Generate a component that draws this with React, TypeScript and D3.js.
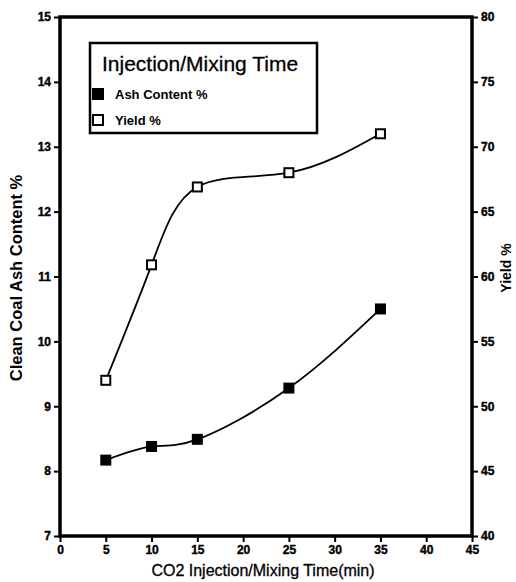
import React, { useEffect, useRef } from "react";
import * as d3 from "d3";

// injection / mixing time (min)
const times = [5, 10, 15, 25, 35];
// clean coal ash content %, left axis
const ashContent = [8.17, 8.38, 8.49, 9.28, 10.5];
// yield %, right axis
const yieldPct = [52.0, 60.9, 66.9, 68.0, 71.0];

const xTicks = [0, 5, 10, 15, 20, 25, 30, 35, 40, 45];
const ashTicks = [7, 8, 9, 10, 11, 12, 13, 14, 15];
const yieldTicks = [40, 45, 50, 55, 60, 65, 70, 75, 80];

const W = 516;
const H = 582;
const FONT = "'Liberation Sans', Arial, sans-serif";

export default function App() {
  const svgRef = useRef<SVGSVGElement>(null);

  useEffect(() => {
    const svg = d3.select(svgRef.current);
    svg.selectAll("*").remove();

    const left = 60, right = 472, top = 17, bottom = 536;

    const x = d3.scaleLinear().domain([0, 45]).range([left, right]);
    const yAsh = d3.scaleLinear().domain([7, 15]).range([bottom, top]);
    const yYield = d3.scaleLinear().domain([40, 80]).range([bottom, top]);

    const styleAxis = (g: any) => {
      g.select(".domain").remove();
      g.selectAll(".tick line").attr("stroke", "#000").attr("stroke-width", 2);
      g.selectAll(".tick text")
        .attr("fill", "#000")
        .attr("font-family", FONT)
        .attr("font-weight", "bold")
        .attr("font-size", 12)
        .attr("stroke", "#000")
        .attr("stroke-width", 0.4);
    };

    svg.append("g")
      .attr("transform", `translate(0,${bottom})`)
      .call(d3.axisBottom(x).tickValues(xTicks).tickSize(6).tickPadding(3).tickFormat(d3.format("d")))
      .call(styleAxis);

    svg.append("g")
      .attr("transform", `translate(${left},0)`)
      .call(d3.axisLeft(yAsh).tickValues(ashTicks).tickSize(6).tickPadding(3).tickFormat(d3.format("d")))
      .call(styleAxis);

    svg.append("g")
      .attr("transform", `translate(${right},0)`)
      .call(d3.axisRight(yYield).tickValues(yieldTicks).tickSize(6).tickPadding(3).tickFormat(d3.format("d")))
      .call(styleAxis);

    // frame
    svg.append("rect")
      .attr("x", left).attr("y", top)
      .attr("width", right - left).attr("height", bottom - top)
      .attr("fill", "none").attr("stroke", "#000").attr("stroke-width", 3.5);

    // curves
    const ashLine = d3.line<number>()
      .x((_, i) => x(times[i]))
      .y((d) => yAsh(d))
      .curve(d3.curveNatural);
    const yieldLine = d3.line<number>()
      .x((_, i) => x(times[i]))
      .y((d) => yYield(d))
      .curve(d3.curveNatural);

    svg.append("path").attr("d", ashLine(ashContent))
      .attr("fill", "none").attr("stroke", "#000").attr("stroke-width", 1.8);
    svg.append("path").attr("d", yieldLine(yieldPct))
      .attr("fill", "none").attr("stroke", "#000").attr("stroke-width", 1.8);

    const s = 11;
    svg.append("g").selectAll("rect")
      .data(ashContent)
      .join("rect")
      .attr("x", (_, i) => x(times[i]) - s / 2)
      .attr("y", (d) => yAsh(d) - s / 2)
      .attr("width", s).attr("height", s)
      .attr("fill", "#000");

    svg.append("g").selectAll("rect")
      .data(yieldPct)
      .join("rect")
      .attr("x", (_, i) => x(times[i]) - s / 2 + 1)
      .attr("y", (d) => yYield(d) - s / 2 + 1)
      .attr("width", s - 2).attr("height", s - 2)
      .attr("fill", "#fff").attr("stroke", "#000").attr("stroke-width", 2);

    // axis titles
    svg.append("text")
      .attr("x", 263).attr("y", 576)
      .attr("text-anchor", "middle")
      .attr("font-family", FONT).attr("font-size", 16)
      .attr("stroke", "#000").attr("stroke-width", 0.3)
      .text("CO2 Injection/Mixing Time(min)");

    svg.append("text")
      .attr("transform", "translate(22,278) rotate(-90)")
      .attr("text-anchor", "middle")
      .attr("font-family", FONT).attr("font-weight", "bold").attr("font-size", 16.5)
      .text("Clean Coal Ash Content %");

    svg.append("text")
      .attr("transform", "translate(511,268) rotate(-90)")
      .attr("text-anchor", "middle")
      .attr("font-family", FONT).attr("font-weight", "bold").attr("font-size", 14)
      .text("Yield %");

    // legend
    const lg = svg.append("g");
    lg.append("rect")
      .attr("x", 90).attr("y", 43).attr("width", 227).attr("height", 90)
      .attr("fill", "#fff").attr("stroke", "#000").attr("stroke-width", 2.5);
    lg.append("text")
      .attr("x", 102).attr("y", 71)
      .attr("font-family", FONT).attr("font-size", 21)
      .attr("stroke", "#000").attr("stroke-width", 0.3)
      .text("Injection/Mixing Time");
    lg.append("rect")
      .attr("x", 92).attr("y", 88).attr("width", 12).attr("height", 12)
      .attr("fill", "#000");
    lg.append("rect")
      .attr("x", 93).attr("y", 115).attr("width", 10).attr("height", 10)
      .attr("fill", "#fff").attr("stroke", "#000").attr("stroke-width", 2);
    lg.append("text")
      .attr("x", 115).attr("y", 99)
      .attr("font-family", FONT).attr("font-weight", "bold").attr("font-size", 13)
      .text("Ash Content %");
    lg.append("text")
      .attr("x", 115).attr("y", 125)
      .attr("font-family", FONT).attr("font-weight", "bold").attr("font-size", 13)
      .text("Yield %");
  }, []);

  return (
    <svg
      ref={svgRef}
      width={W}
      height={H}
      style={{ position: "absolute", left: 0, top: 0, background: "#fff" }}
    />
  );
}
